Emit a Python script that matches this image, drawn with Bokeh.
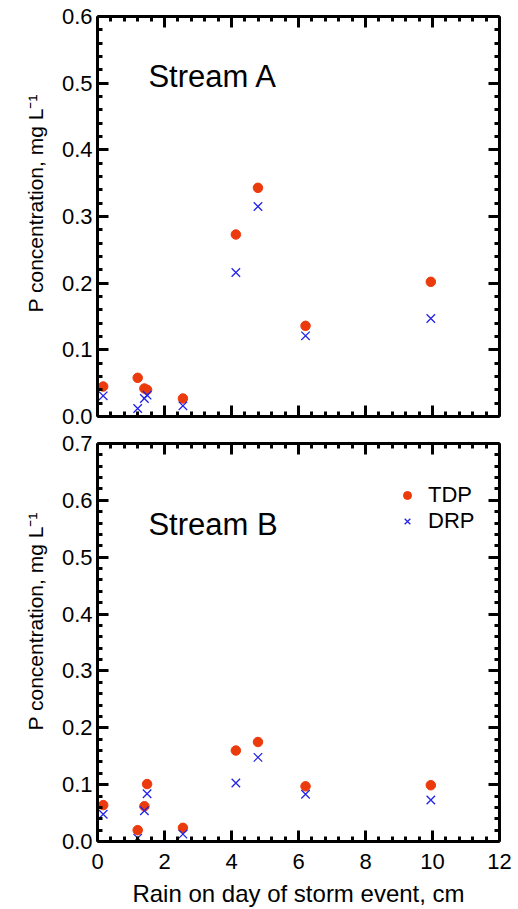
from bokeh.plotting import figure
from bokeh.layouts import column
from bokeh.models import (LinearAxis, FixedTicker, PrintfTickFormatter,
                          Label, Legend, LegendItem, Range1d, Title)
from bokeh.embed import file_html
from bokeh.resources import INLINE

# ---- data ----
rain_cm = [0.17, 1.20, 1.40, 1.48, 2.55, 4.13, 4.79, 6.21, 9.95]
streamA_tdp = [0.045, 0.058, 0.042, 0.040, 0.027, 0.273, 0.343, 0.136, 0.202]
streamA_drp = [0.031, 0.012, 0.027, 0.032, 0.016, 0.216, 0.315, 0.121, 0.147]
streamB_tdp = [0.064, 0.020, 0.062, 0.101, 0.024, 0.160, 0.175, 0.097, 0.099]
streamB_drp = [0.048, 0.006, 0.054, 0.084, 0.013, 0.103, 0.148, 0.083, 0.073]
series_names = ["TDP", "DRP"]
panel_titles = ["Stream A", "Stream B"]
x_ticks = [0, 2, 4, 6, 8, 10, 12]
yA_ticks = [0.0, 0.1, 0.2, 0.3, 0.4, 0.5, 0.6]
yB_ticks = [0.0, 0.1, 0.2, 0.3, 0.4, 0.5, 0.6, 0.7]
x_label = "Rain on day of storm event, cm"
y_label = "P concentration, mg L\u207b\u00b9"

FONT = "Liberation Sans"
RED = "#EB3A0C"
BLUE = "#2424E6"
TICK_FS = "22px"


def minor_between(ticks, n):
    out = []
    for a, b in zip(ticks[:-1], ticks[1:]):
        step = (b - a) / n
        out += [a + step * k for k in range(1, n)]
    return out


def style_axis(ax, show_labels):
    ax.axis_line_width = 3
    ax.axis_line_color = "black"
    ax.major_tick_in = 11
    ax.major_tick_out = 0
    ax.minor_tick_in = 5
    ax.minor_tick_out = 0
    ax.major_tick_line_width = 3
    ax.minor_tick_line_width = 3
    ax.major_tick_line_color = "black"
    ax.minor_tick_line_color = "black"
    if show_labels:
        ax.major_label_text_font = FONT
        ax.major_label_text_font_size = TICK_FS
        ax.major_label_text_color = "black"
    else:
        ax.major_label_text_font_size = "0px"
        ax.major_label_standoff = 0
        ax.major_label_text_color = None
        ax.axis_label = None


def make_panel(ymax, yticks, height, border_top, border_bottom, show_x, tdp, drp,
               title, title_y, ylab_offset):
    p = figure(width=518, height=height, output_backend="svg", toolbar_location=None,
               x_range=Range1d(0, 12), y_range=Range1d(0, ymax + 1e-9),
               x_axis_type=None, y_axis_type=None,
               min_border_left=97, min_border_right=19,
               min_border_top=border_top, min_border_bottom=border_bottom)
    p.grid.visible = False
    p.outline_line_color = None
    p.background_fill_color = "white"
    p.border_fill_color = "white"

    xt = FixedTicker(ticks=x_ticks, minor_ticks=minor_between(x_ticks, 5))
    yt = FixedTicker(ticks=yticks, minor_ticks=minor_between(yticks, 5))
    yf = PrintfTickFormatter(format="%.1f")

    left = LinearAxis(ticker=yt, formatter=yf)
    style_axis(left, True)
    left.major_label_standoff = 5
    p.add_layout(left, "left")

    # y-axis title as a side title, placed along the axis like the reference
    p.add_layout(Title(text=y_label, align="left", offset=ylab_offset,
                       text_font=FONT, text_font_size="21px", text_font_style="normal",
                       text_color="black", standoff=24), "left")

    right = LinearAxis(ticker=yt)
    style_axis(right, False)
    p.add_layout(right, "right")

    top = LinearAxis(ticker=xt)
    style_axis(top, False)
    p.add_layout(top, "above")

    bottom = LinearAxis(ticker=xt)
    if show_x:
        style_axis(bottom, True)
        bottom.major_label_standoff = 12
        bottom.axis_label = x_label
        bottom.axis_label_text_font = FONT
        bottom.axis_label_text_font_size = "24px"
        bottom.axis_label_text_font_style = "normal"
        bottom.axis_label_text_color = "black"
        bottom.axis_label_standoff = 8
    else:
        style_axis(bottom, False)
    p.add_layout(bottom, "below")

    r1 = p.scatter(rain_cm, tdp, marker="circle", size=9.5, fill_color=RED, line_color=RED)
    r2 = p.scatter(rain_cm, drp, marker="x", size=12, line_color=BLUE, line_width=1.3)

    p.add_layout(Label(x=1.52, y=title_y, text=title, text_font=FONT, text_font_size="31px",
                       text_baseline="middle", text_color="black"))
    return p, r1, r2


p1, _, _ = make_panel(0.6, yA_ticks, 430, 16, 14, False, streamA_tdp, streamA_drp,
                      panel_titles[0], 0.51, 104)
p2, r1, r2 = make_panel(0.7, yB_ticks, 479, 13, 68, True, streamB_tdp, streamB_drp,
                        panel_titles[1], 0.558, 111)

legend = Legend(items=[LegendItem(label=series_names[0], renderers=[r1]),
                       LegendItem(label=series_names[1], renderers=[r2])],
                location=(300, 307), padding=0, margin=0, spacing=0,
                glyph_width=20, glyph_height=26, label_standoff=11,
                label_text_font=FONT, label_text_font_size="22px",
                label_text_color="black",
                border_line_color=None, background_fill_alpha=0)
p2.add_layout(legend)

layout = column(p1, p2, spacing=0)
open("out.html", "w").write(file_html(layout, INLINE))
